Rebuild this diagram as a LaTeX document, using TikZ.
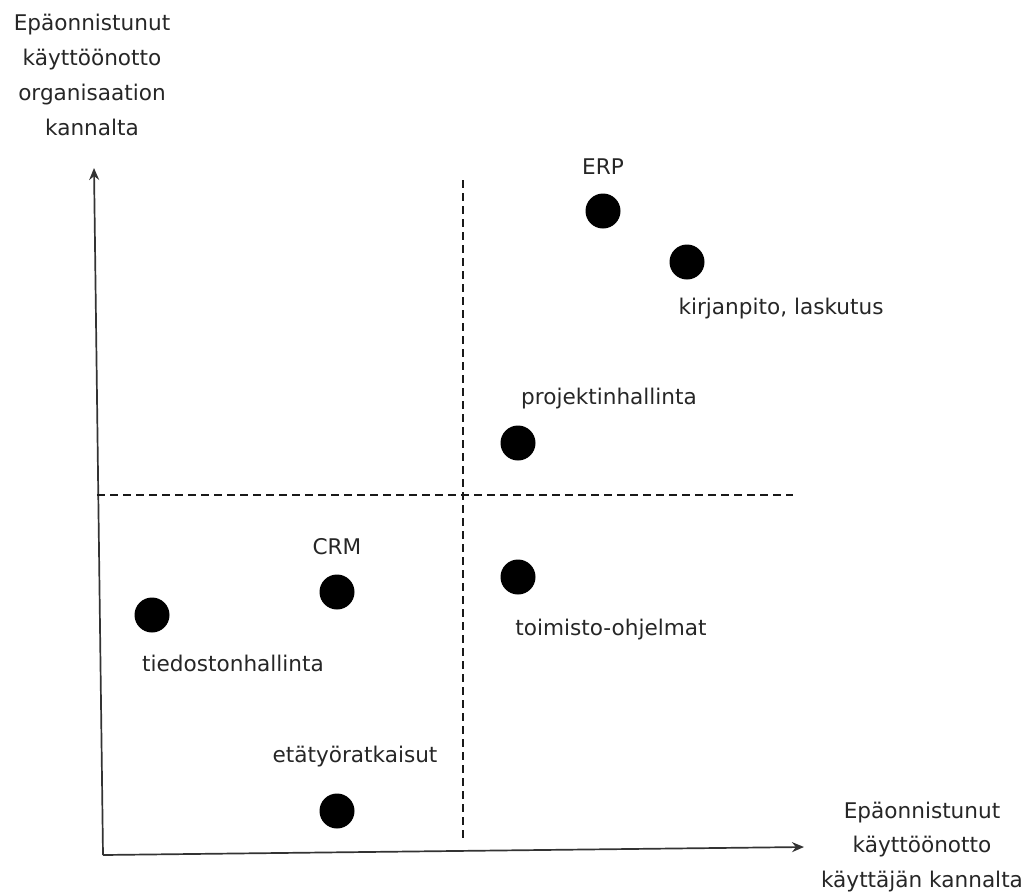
\documentclass[tikz,border=0pt]{standalone}
\usepackage{fontspec}
\setmainfont{DejaVu Sans}
\usetikzlibrary{arrows.meta}
\begin{document}
\begin{tikzpicture}[x=1pt,y=-1pt,
  every node/.style={font=\fontsize{21.6}{34.8}\selectfont, inner sep=0pt},
  axis/.style={line width=1.7pt, draw=black!80, -{Stealth[length=12pt,width=10pt]}},
  guide/.style={line width=1.4pt, draw=black!90, dash pattern=on 8pt off 5pt},
  dot/.style={circle, fill=black, minimum size=35pt, inner sep=0pt},
  lbl/.style={anchor=center, align=center, text=black!85}]
\useasboundingbox (0,0) rectangle (1025,892);
% axes
\coordinate (origin) at (103,855);
\coordinate (ytop) at (94,168);
\coordinate (xend) at (804,847);
\draw[axis] (origin) -- (ytop);
\draw[axis] (origin) -- (xend);
% quadrant dividers
\coordinate (vtop) at (463,180);
\coordinate (vbot) at (463,840);
\coordinate (hleft) at (97,495);
\coordinate (hright) at (793,495);
\draw[guide] (vtop) -- (vbot);
\draw[guide] (hleft) -- (hright);
% axis titles
\node[lbl] (ylab) at (92,75) {Epäonnistunut\\käyttöönotto\\organisaation\\kannalta};
\node[lbl] (xlab) at (922,847) {Epäonnistunut\\käyttöönotto\\käyttäjän kannalta};
% systems
\node[dot] (erp) at (603,211) {};
\node[dot] (kir) at (687,262) {};
\node[dot] (pro) at (518,443) {};
\node[dot] (toi) at (518,577) {};
\node[dot] (crm) at (337,592) {};
\node[dot] (tie) at (152,615) {};
\node[dot] (eta) at (337,811) {};
\node[lbl] (erpl) at (603,167) {ERP};
\node[lbl] (kirl) at (781,309) {kirjanpito, laskutus};
\node[lbl] (prol) at (609,399) {projektinhallinta};
\node[lbl] (toil) at (611,630) {toimisto-ohjelmat};
\node[lbl] (crml) at (337,547) {CRM};
\node[lbl] (tiel) at (233,663) {tiedostonhallinta};
\node[lbl] (etal) at (355,757) {etätyöratkaisut};
\end{tikzpicture}
\end{document}
